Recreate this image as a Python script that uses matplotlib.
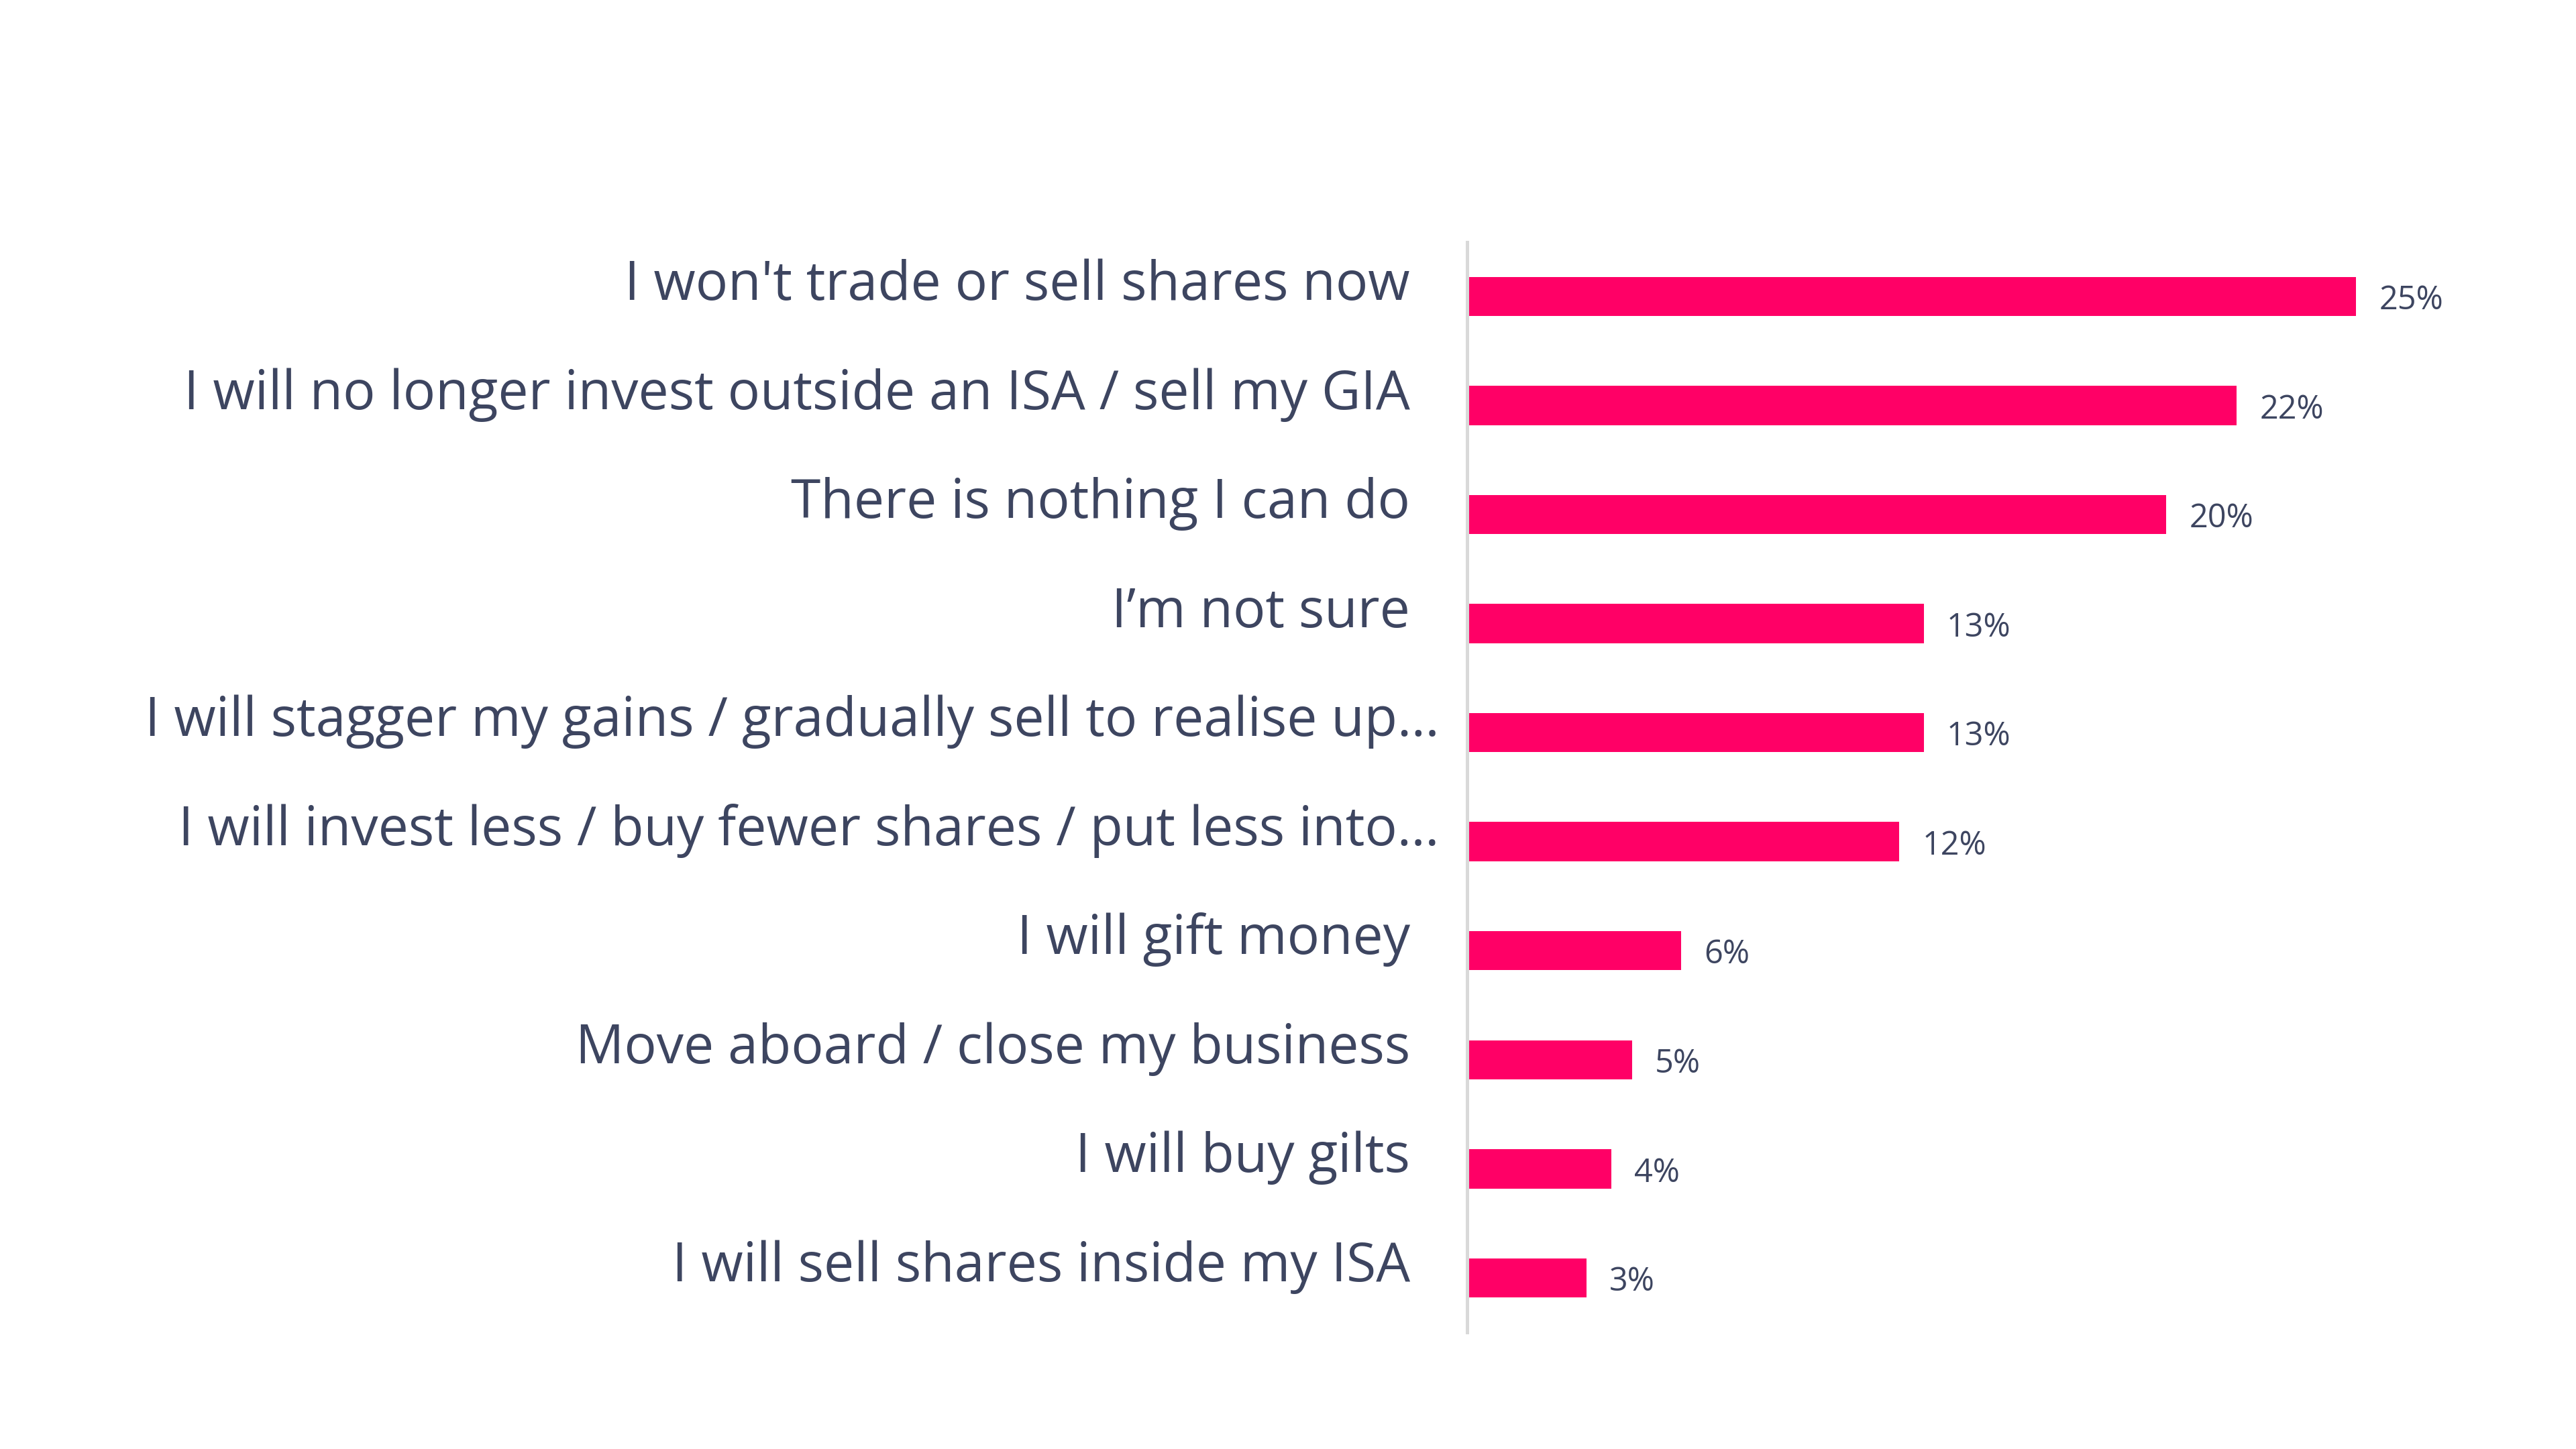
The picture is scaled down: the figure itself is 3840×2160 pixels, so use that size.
import matplotlib.pyplot as plt
import matplotlib.transforms as mtransforms

categories = [
    "I won't trade or sell shares now",
    "I will no longer invest outside an ISA / sell my GIA",
    "There is nothing I can do",
    "I’m not sure",
    "I will stagger my gains / gradually sell to realise up…",
    "I will invest less / buy fewer shares / put less into…",
    "I will gift money",
    "Move aboard / close my business",
    "I will buy gilts",
    "I will sell shares inside my ISA",
]
values = [25.3, 21.9, 19.9, 13.0, 13.0, 12.3, 6.1, 4.7, 4.1, 3.4]

BAR = '#FF0066'
TEXT = '#3D4560'

plt.rcParams['font.family'] = ['Open Sans', 'DejaVu Sans']

fig = plt.figure(figsize=(19.2, 10.8), dpi=200)
ax = fig.add_axes([0.5695, 0.0805, 0.382, 0.7525])

ypos = list(range(len(categories)))
ax.barh(ypos, values, height=0.36, color=BAR)
ax.set_ylim(9.5, -0.5)
ax.set_xlim(0, 28)

# valeurs au bout des barres
for y, v in zip(ypos, values):
    ax.text(v + 0.65, y + 0.04, f"{v:.0f}%", ha='left', va='center',
            fontsize=17.5, color=TEXT)

# libelles a gauche
trans = mtransforms.blended_transform_factory(ax.transAxes, ax.transData)
for y, lab in zip(ypos, categories):
    x = -0.028 if lab.endswith('…') else -0.058
    ax.text(x, y - 0.1, lab, transform=trans, ha='right', va='center',
            fontsize=29, color=TEXT)

ax.set_xticks([])
ax.set_yticks([])
for s in ['top', 'right', 'bottom']:
    ax.spines[s].set_visible(False)
ax.spines['left'].set_color('#D9D9D9')
ax.spines['left'].set_linewidth(1.8)

fig.savefig('out.png', dpi=200, facecolor='white')
